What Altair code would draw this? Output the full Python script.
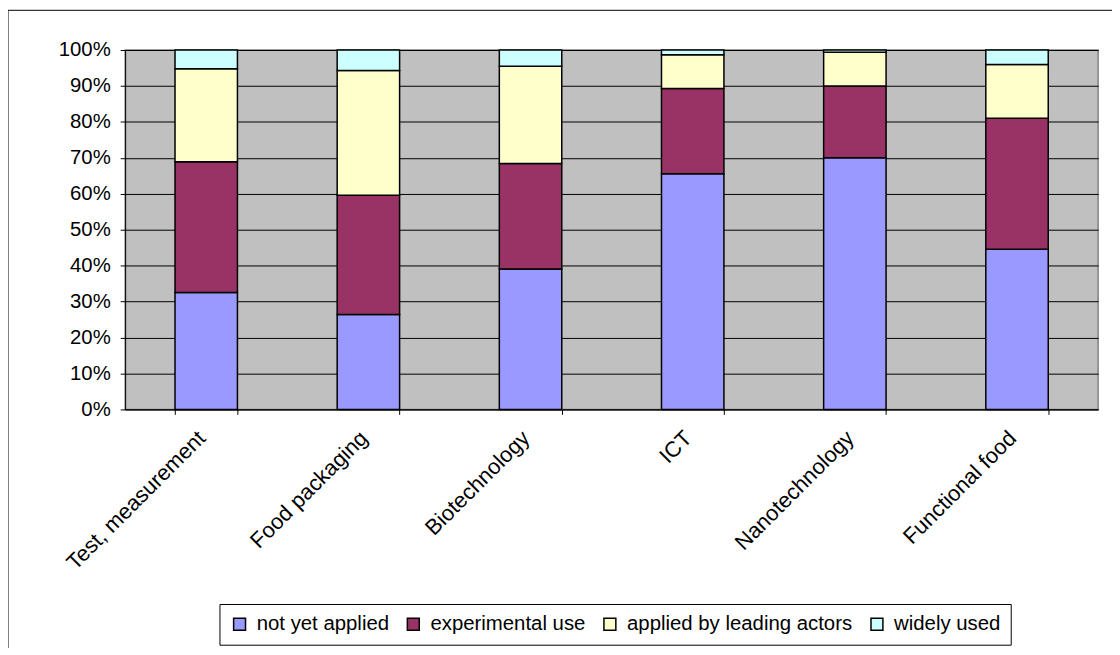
import altair as alt
import pandas as pd

categories = ["Test, measurement", "Food packaging", "Biotechnology", "ICT", "Nanotechnology", "Functional food"]
series = ["not yet applied", "experimental use", "applied by leading actors", "widely used"]
not_yet_applied = [32.5, 26.4, 39.1, 65.6, 70.0, 44.6]
experimental_use = [36.4, 33.2, 29.3, 23.7, 20.0, 36.4]
applied_by_leading = [25.9, 34.7, 27.1, 9.4, 9.4, 15.0]
widely_used = [5.2, 5.7, 4.5, 1.3, 0.6, 4.0]
colors = ["#9999FF", "#993366", "#FFFFCC", "#CCFFFF"]
y_ticks = [0, 0.1, 0.2, 0.3, 0.4, 0.5, 0.6, 0.7, 0.8, 0.9, 1.0]

rows = []
for s_i, (name, vals) in enumerate(zip(series, [not_yet_applied, experimental_use, applied_by_leading, widely_used])):
    for c, v in zip(categories, vals):
        rows.append({"category": c, "series": name, "value": v, "ord": s_i})
df = pd.DataFrame(rows)

FONT = "Arial"

bars = alt.Chart(df).mark_bar(stroke="black", strokeWidth=1.5).encode(
    x=alt.X("category:N", sort=categories, title=None,
            scale=alt.Scale(paddingInner=0.615, paddingOuter=0.3075),
            axis=alt.Axis(labelAngle=315, labelAlign="right", labelBaseline="middle",
                          labelPadding=20, labelOffset=-5, tickBand="extent", tickSize=5,
                          tickColor="black", domainColor="black", labelFontSize=22,
                          labelFont=FONT, labelColor="black", grid=False, labelLimit=400)),
    y=alt.Y("value:Q", stack="normalize", title=None,
            scale=alt.Scale(domain=[0, 1]),
            axis=alt.Axis(values=y_ticks, format=".0%", tickSize=5, tickColor="black",
                          domainColor="black", gridColor="black", gridWidth=1,
                          labelFontSize=20.5, labelFont=FONT, labelColor="black",
                          labelPadding=10)),
    color=alt.Color("series:N", sort=series,
                    scale=alt.Scale(domain=series, range=colors),
                    legend=alt.Legend(title=None, orient="none", legendX=95, legendY=558,
                                      direction="horizontal", columns=4,
                                      strokeColor="black", padding=10,
                                      labelFontSize=20.5, labelFont=FONT, labelColor="black",
                                      labelLimit=400,
                                      symbolType="square", symbolSize=144,
                                      symbolStrokeColor="black", symbolStrokeWidth=1.5,
                                      columnPadding=14, labelOffset=7)),
    order=alt.Order("ord:Q", sort="ascending"),
)

border_data = alt.Data(values=[{"k": 1}])
left_border = alt.Chart(border_data).mark_rule(color="black", strokeWidth=1).encode(
    x=alt.value(-118), y=alt.value(-40), y2=alt.value(800))
top_border = alt.Chart(border_data).mark_rule(color="black", strokeWidth=1).encode(
    x=alt.value(-118), x2=alt.value(1200), y=alt.value(-40))

chart = alt.layer(bars, left_border, top_border).properties(
    width=980, height=362,
    autosize=alt.AutoSizeParams(type="none"),
    padding={"left": 118, "top": 40, "right": 14, "bottom": 238},
    background="white",
).configure_view(
    fill="#C0C0C0", stroke="#808080", strokeWidth=1.5
)

chart.save("out.html", embed_options={"renderer": "svg", "actions": False})
